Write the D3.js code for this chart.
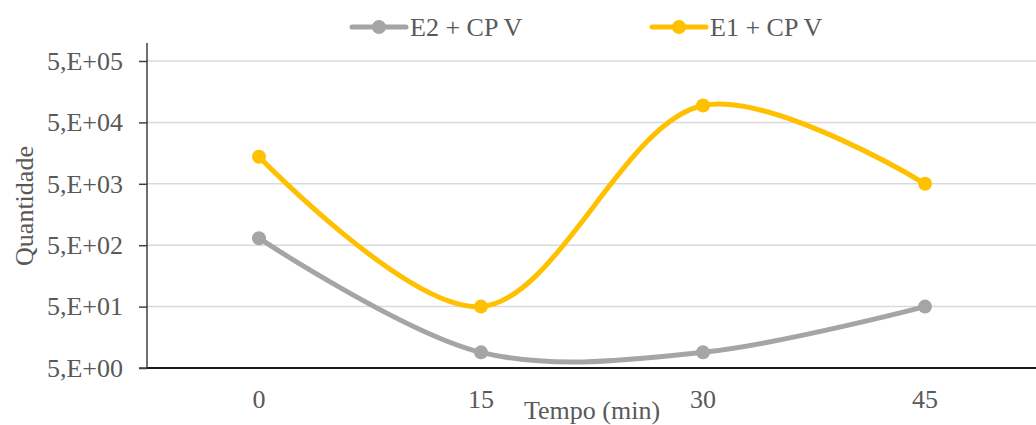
<!DOCTYPE html>
<html><head><meta charset="utf-8">
<script src="https://cdn.jsdelivr.net/npm/d3@7"></script>
<style>body{margin:0;background:#fff}svg{display:block}</style>
</head><body>
<svg id="c" width="1036" height="425"></svg>
<script>
const categories = ["0","15","30","45"];
const seriesNames = ["E2 + CP V","E1 + CP V"];
const e2Values = [650, 9, 9, 50];
const e1Values = [13800, 50, 94000, 5000];
const yTicks = [5, 50, 500, 5000, 50000, 500000];
const yTickLabels = ["5,E+00","5,E+01","5,E+02","5,E+03","5,E+04","5,E+05"];
const colors = ["#A5A5A5","#FFC000"];

(function(){
const FONT = "'Liberation Serif', 'Times New Roman', 'DejaVu Serif', serif";
const FS = 26;
const svg = d3.select("#c");
const pl = 147, pr = 1036, pt = 61, pb = 368;
const x = d3.scaleBand().domain(categories).range([pl+1, pr]).padding(0);
const y = d3.scaleLog().domain([5, 500000]).range([pb, pt]);
const xc = d => x(d) + x.bandwidth()/2;

// gridlines
svg.append("g").selectAll("line").data(yTicks.slice(1)).join("line")
  .attr("x1", pl).attr("x2", pr).attr("y1", d=>y(d)).attr("y2", d=>y(d))
  .attr("stroke","#d9d9d9").attr("stroke-width",1.5);

// y axis
const yAxis = d3.axisLeft(y).tickValues(yTicks).tickFormat((d,i)=>yTickLabels[i]).tickSize(8).tickPadding(16);
const gy = svg.append("g").attr("transform",`translate(${pl},0)`).call(yAxis)
  .attr("font-family", FONT).attr("font-size", FS);
gy.select(".domain").attr("d", `M-8,${pb}H0V43`).attr("stroke","#404040").attr("stroke-width",1.5);
gy.selectAll(".tick line").attr("stroke","#404040").attr("stroke-width",1.5);
gy.selectAll("text").attr("fill","#595959");

// x axis
const xAxis = d3.axisBottom(x).tickSize(0).tickPadding(22);
const gx = svg.append("g").attr("transform",`translate(0,${pb})`).call(xAxis)
  .attr("font-family", FONT).attr("font-size", FS);
gx.select(".domain").attr("d", `M${pl},0H${pr}`).attr("stroke","#1a1a1a").attr("stroke-width",2);
gx.selectAll("text").attr("fill","#595959");

// titles
svg.append("text").attr("x", 592).attr("y", 419).attr("text-anchor","middle")
  .attr("font-family", FONT).attr("font-size", FS)
  .attr("fill","#595959").text("Tempo (min)");
svg.append("text").attr("transform","translate(33,206) rotate(-90)").attr("text-anchor","middle")
  .attr("font-family", FONT).attr("font-size", FS)
  .attr("fill","#595959").text("Quantidade");

// lines
const series = [e2Values, e1Values];
const line = d3.line().x((d,i)=>xc(categories[i])).y(d=>y(d)).curve(d3.curveCatmullRom.alpha(0.5));
series.forEach((vals,si)=>{
  svg.append("path").datum(vals).attr("d", line).attr("fill","none")
    .attr("stroke", colors[si]).attr("stroke-width",5).attr("stroke-linecap","round");
  svg.append("g").selectAll("circle").data(vals).join("circle")
    .attr("cx",(d,i)=>xc(categories[i])).attr("cy",d=>y(d)).attr("r",7).attr("fill",colors[si]);
});

// legend
const legendX = [352, 652];
seriesNames.forEach((n,i)=>{
  const g = svg.append("g").attr("transform",`translate(${legendX[i]},27)`);
  g.append("line").attr("x1",0).attr("x2",54).attr("stroke",colors[i]).attr("stroke-width",5).attr("stroke-linecap","round");
  g.append("circle").attr("cx",27).attr("r",7).attr("fill",colors[i]);
  g.append("text").attr("x",58).attr("y",9).attr("fill","#595959")
    .attr("font-family", FONT).attr("font-size", FS).text(n);
});
})();
</script>
</body></html>
